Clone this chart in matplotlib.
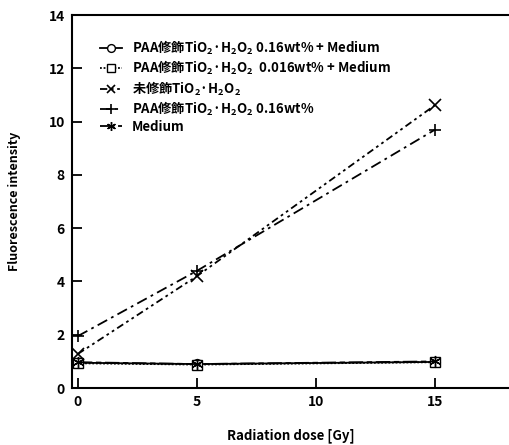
import matplotlib
matplotlib.use("Agg")
import matplotlib.pyplot as plt

plt.rcParams['font.family'] = ['Noto Sans CJK JP', 'DejaVu Sans']
plt.rcParams['font.weight'] = 'bold'
plt.rcParams['axes.labelweight'] = 'bold'
plt.rcParams['mathtext.default'] = 'regular'

dose = [0, 5, 15]

paa016_medium = [0.95, 0.9, 0.98]
paa0016_medium = [0.93, 0.88, 0.97]
unmodified = [1.28, 4.2, 10.62]
paa016 = [1.95, 4.4, 9.7]
medium = [0.97, 0.9, 1.0]

labels = [
    "PAA修飾TiO$_2$·H$_2$O$_2$ 0.16wt% + Medium",
    "PAA修飾TiO$_2$·H$_2$O$_2$  0.016wt% + Medium",
    "未修飾TiO$_2$·H$_2$O$_2$",
    "PAA修飾TiO$_2$·H$_2$O$_2$ 0.16wt%",
    "Medium",
]

x_ticks = [0, 5, 10, 15]
y_ticks = [0, 2, 4, 6, 8, 10, 12, 14]

fig = plt.figure(figsize=(5.1, 4.45), dpi=100)
ax = fig.add_axes([0.141, 0.128, 0.859, 0.838])

ax.plot(dose, paa016_medium, color="black", lw=1.3, ls="-",
        marker="o", mfc="white", mec="black", ms=7, label=labels[0])
ax.plot(dose, paa0016_medium, color="black", lw=1.3, ls=(0, (1, 1)),
        marker="s", mfc="white", mec="black", ms=7, label=labels[1])
ax.plot(dose, unmodified, color="black", lw=1.3, ls=(0, (4, 2, 1.5, 2, 1.5, 2)),
        marker="x", ms=8, mew=1.2, label=labels[2])
ax.plot(dose, paa016, color="black", lw=1.3, ls=(0, (6, 2.5, 1.5, 2.5)),
        marker="+", ms=9, mew=1.2, label=labels[3])
ax.plot(dose, medium, color="black", lw=1.3, ls=(0, (8, 2, 3, 2)),
        marker=(6, 2, 0), ms=8, mew=1.0, label=labels[4])

ax.set_xlim(-0.25, 18.15)
ax.set_ylim(0, 14)
ax.set_xticks(x_ticks)
ax.set_yticks(y_ticks)

for s in ["left", "bottom", "top"]:
    ax.spines[s].set_linewidth(1.5)
ax.spines["right"].set_visible(False)
ax.tick_params(direction="in", length=7, width=1.3, labelsize=10, pad=5)

ax.set_xlabel("Radiation dose [Gy]", fontsize=9.5, labelpad=14)
ax.set_ylabel("Fluorescence intensity", fontsize=9, labelpad=20)

leg = ax.legend(loc="upper left", bbox_to_anchor=(0.05, 0.955), frameon=False,
                fontsize=9.5, handlelength=1.6, handletextpad=0.8,
                labelspacing=0.15, borderpad=0, markerscale=0.8)

fig.savefig("out.png", dpi=100)
